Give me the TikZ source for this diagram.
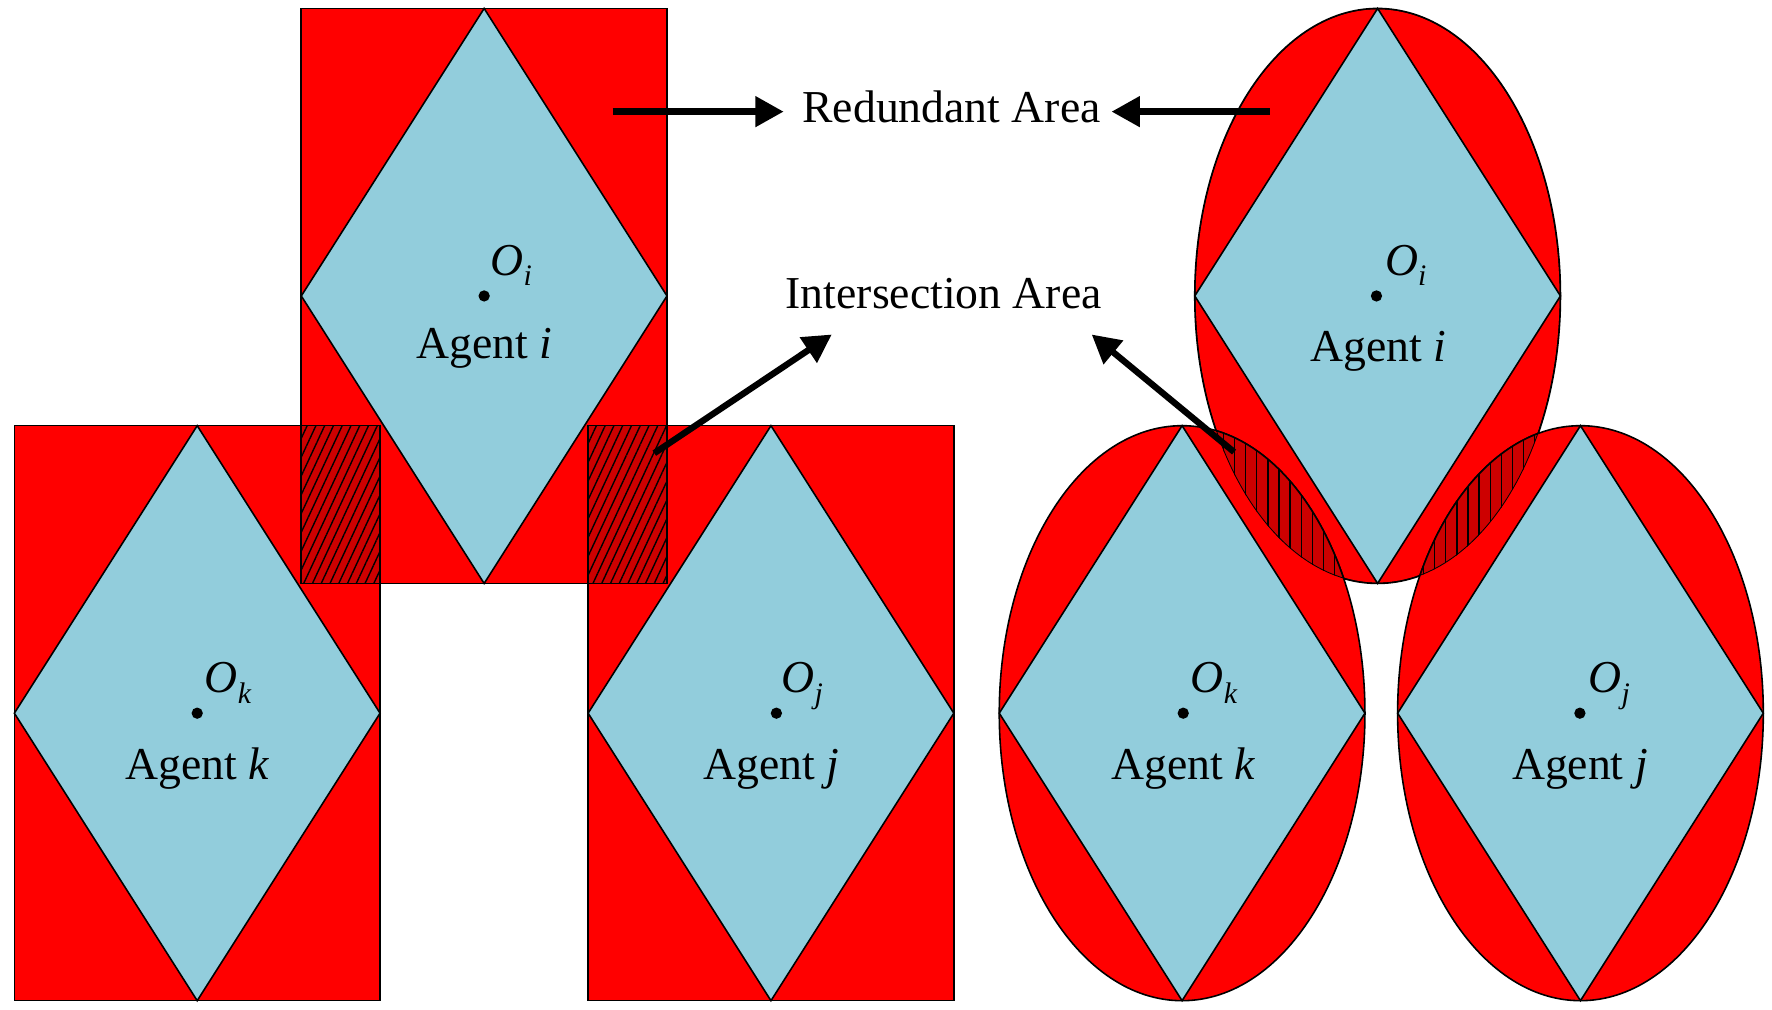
\documentclass[tikz,border=0pt]{standalone}
\usepackage{fontspec}
\setmainfont{Liberation Serif}
\usetikzlibrary{arrows.meta,patterns.meta,positioning}
\newcommand{\tamO}[1]{\textit{O}\raisebox{-2.6pt}{\fontsize{7.5}{8}\selectfont\itshape #1}}

\begin{document}
\begin{tikzpicture}[
	muiten/.style={black,line width=1.6pt,-{Triangle[length=0.25cm,width=0.26cm]}},
	nhan/.style={font=\fontsize{11.5}{14}\selectfont,inner sep=0},
	gachxien/.style={fill=dosam,postaction={pattern={Lines[angle=65,distance=2pt,line width=0.35pt]}}},
	gachdoc/.style={fill=dosam,postaction={pattern={Lines[angle=90,distance=2.8pt,line width=0.35pt]}}}
	]
	\definecolor{dotuoi}{RGB}{255,0,0}
	\definecolor{xanhnhat}{RGB}{146,205,220}
	\definecolor{dosam}{RGB}{205,0,0}
	
	\fill[white] (0,0) rectangle (15.68,8.93);
	\useasboundingbox (0,0) rectangle (15.68,8.93);
	
	%Hình chữ nhật
	\filldraw[black,fill=dotuoi,line width=0.4] (2.666,3.767) rectangle (5.902,8.855);
	\filldraw[black,fill=xanhnhat,line width=0.4] (4.284,8.855) -- (5.902,6.311) -- (4.284,3.767) -- (2.666,6.311) -- cycle;
	\filldraw[black,fill=dotuoi,line width=0.4] (0.127,0.075) rectangle (3.363,5.163);
	\filldraw[black,fill=xanhnhat,line width=0.4] (1.745,5.163) -- (3.363,2.619) -- (1.745,0.075) -- (0.127,2.619) -- cycle;
	\filldraw[black,fill=dotuoi,line width=0.4] (5.204,0.075) rectangle (8.44,5.163);
	\filldraw[black,fill=xanhnhat,line width=0.4] (6.822,5.163) -- (8.44,2.619) -- (6.822,0.075) -- (5.204,2.619) -- cycle;
	\filldraw[black,gachxien,line width=0.4] (2.666,3.767) rectangle (3.363,5.163)
	(5.204,3.767) rectangle (5.902,5.163);
	
	%Hình elip
	\filldraw[black,fill=dotuoi,line width=0.4] (12.19,6.311) ellipse [x radius=1.618,y radius=2.544];
	\filldraw[black,fill=xanhnhat,line width=0.4] (12.19,8.855) -- (13.808,6.311) -- (12.19,3.767) -- (10.572,6.311) -- cycle;
	\filldraw[black,fill=dotuoi,line width=0.4] (10.46,2.619) ellipse [x radius=1.618,y radius=2.544];
	\filldraw[black,fill=xanhnhat,line width=0.4] (10.46,5.163) -- (12.078,2.619) -- (10.46,0.075) -- (8.842,2.619) -- cycle;
	\filldraw[black,fill=dotuoi,line width=0.4] (13.985,2.619) ellipse [x radius=1.618,y radius=2.544];
	\filldraw[black,fill=xanhnhat,line width=0.4] (13.985,5.163) -- (15.603,2.619) -- (13.985,0.075) -- (12.367,2.619) -- cycle;
	\begin{scope}
		\clip (12.19,6.311) ellipse [x radius=1.618,y radius=2.544];
		\filldraw[black,gachdoc,line width=0.4] (10.46,2.619) ellipse [x radius=1.618,y radius=2.544]
		(13.985,2.619) ellipse [x radius=1.618,y radius=2.544];
		\draw[black,line width=0.4] (12.19,6.311) ellipse [x radius=1.618,y radius=2.544];
	\end{scope}
	
	%Tâm và tên
	\coordinate (oi) at (4.284,6.311);
	\coordinate (ok) at (1.745,2.619);
	\coordinate (oj) at (6.87,2.619);
	\coordinate (oie) at (12.18,6.311);
	\coordinate (oke) at (10.47,2.619);
	\coordinate (oje) at (13.98,2.619);
	\fill (oi) circle (0.05) (ok) circle (0.05) (oj) circle (0.05)
	(oie) circle (0.05) (oke) circle (0.05) (oje) circle (0.05);
	\node[nhan,anchor=base west] (tami) at ([shift={(0.05,0.18)}]oi) {\tamO{i}};
	\node[nhan,anchor=base west] (tamk) at ([shift={(0.06,0.18)}]ok) {\tamO{k}};
	\node[nhan,anchor=base west] (tamj) at ([shift={(0.04,0.18)}]oj) {\tamO{j}};
	\node[nhan,anchor=base west] (tamie) at ([shift={(0.07,0.18)}]oie) {\tamO{i}};
	\node[nhan,anchor=base west] (tamke) at ([shift={(0.06,0.18)}]oke) {\tamO{k}};
	\node[nhan,anchor=base west] (tamje) at ([shift={(0.07,0.18)}]oje) {\tamO{j}};
	\node[nhan,anchor=base] (agi) at (4.284,5.76) {Agent \textit{i}};
	\node[nhan,anchor=base] (agk) at (1.745,2.03) {Agent \textit{k}};
	\node[nhan,anchor=base] (agj) at (6.825,2.03) {Agent \textit{j}};
	\node[nhan,anchor=base] (agie) at (12.2,5.73) {Agent \textit{i}};
	\node[nhan,anchor=base] (agke) at (10.47,2.03) {Agent \textit{k}};
	\node[nhan,anchor=base] (agje) at (13.98,2.03) {Agent \textit{j}};
	
	%Chú thích
	\node[nhan,anchor=base] (redund) at (8.42,7.844) {Redundant Area};
	\node[nhan,anchor=base] (inter) at (8.35,6.204) {Intersection Area};
	\coordinate (rl) at (5.42,7.942);
	\coordinate (rr) at (11.234,7.942);
	\coordinate (il) at (5.79,4.92);
	\coordinate (ilt) at (7.36,5.97);
	\coordinate (ir) at (10.92,4.93);
	\coordinate (irt) at (9.66,5.97);
	\draw[muiten,shorten >=0.16cm] (rl) -- (rl -| redund.west);
	\draw[muiten,shorten >=0.09cm] (rr) -- (rr -| redund.east);
	\draw[muiten] (il) -- (ilt);
	\draw[muiten] (ir) -- (irt);
\end{tikzpicture}
\end{document}
